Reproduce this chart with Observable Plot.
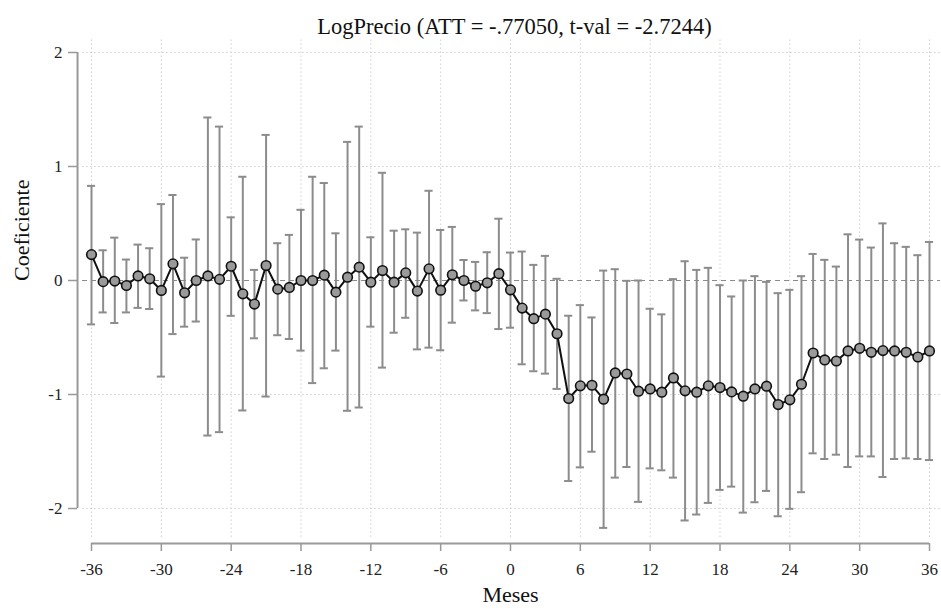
<!DOCTYPE html>
<html><head><meta charset="utf-8">
<script src="https://cdn.jsdelivr.net/npm/d3@7"></script>
<script src="https://cdn.jsdelivr.net/npm/@observablehq/plot@0.6"></script>
<style>body{margin:0;background:#fff}</style>
</head><body><div id="chart"></div>
<script>
const months = [-36,-35,-34,-33,-32,-31,-30,-29,-28,-27,-26,-25,-24,-23,-22,-21,-20,-19,-18,-17,-16,-15,-14,-13,-12,-11,-10,-9,-8,-7,-6,-5,-4,-3,-2,-1,0,1,2,3,4,5,6,7,8,9,10,11,12,13,14,15,16,17,18,19,20,21,22,23,24,25,26,27,28,29,30,31,32,33,34,35,36];
const coef = [0.227,-0.01,-0.005,-0.044,0.04,0.015,-0.087,0.146,-0.108,0.0,0.04,0.01,0.125,-0.117,-0.207,0.131,-0.076,-0.061,0.0,0.0,0.047,-0.102,0.029,0.117,-0.015,0.087,-0.015,0.067,-0.093,0.102,-0.085,0.05,0.0,-0.05,-0.02,0.06,-0.082,-0.242,-0.335,-0.295,-0.467,-1.035,-0.924,-0.919,-1.041,-0.811,-0.82,-0.971,-0.951,-0.98,-0.855,-0.968,-0.98,-0.924,-0.939,-0.977,-1.015,-0.951,-0.927,-1.088,-1.047,-0.91,-0.636,-0.697,-0.706,-0.618,-0.595,-0.63,-0.615,-0.618,-0.63,-0.671,-0.618];
const upper = [0.83,0.265,0.376,0.184,0.315,0.283,0.67,0.75,0.2,0.36,1.43,1.35,0.554,0.91,0.093,1.277,0.327,0.4,0.62,0.91,0.855,0.414,1.216,1.35,0.379,0.945,0.437,0.449,0.42,0.787,0.443,0.47,0.18,0.163,0.248,0.542,0.245,0.254,0.137,0.216,0.015,-0.309,-0.216,-0.324,0.087,0.099,-0.003,0.0,-0.248,-0.297,0.012,0.169,0.093,0.111,-0.041,-0.14,0.0,0.038,-0.012,-0.111,-0.082,0.038,0.233,0.181,0.122,0.405,0.359,0.289,0.501,0.327,0.295,0.222,0.338];
const lower = [-0.385,-0.28,-0.373,-0.28,-0.24,-0.25,-0.843,-0.47,-0.405,-0.36,-1.36,-1.33,-0.31,-1.14,-0.507,-1.018,-0.48,-0.513,-0.615,-0.9,-0.77,-0.615,-1.143,-1.114,-0.405,-0.764,-0.458,-0.327,-0.604,-0.589,-0.612,-0.37,-0.175,-0.262,-0.286,-0.426,-0.414,-0.735,-0.796,-0.817,-0.951,-1.759,-1.639,-1.502,-2.17,-1.729,-1.636,-1.942,-1.648,-1.665,-1.729,-2.105,-2.053,-1.951,-1.837,-1.808,-2.036,-1.945,-1.846,-2.068,-2.003,-1.857,-1.516,-1.566,-1.528,-1.636,-1.543,-1.543,-1.724,-1.566,-1.56,-1.566,-1.575];
const xTicks = [-36,-30,-24,-18,-12,-6,0,6,12,18,24,30,36];
const yTicks = [-2,-1,0,1,2];
const gridY = [-2,-1,1,2];
const title = "LogPrecio (ATT = -.77050, t-val = -2.7244)";
const xLabel = "Meses";
const yLabel = "Coeficiente";

const data = months.map((m, i) => ({m, b: coef[i], hi: upper[i], lo: lower[i]}));
const yMin = -2.307, yMax = 2;
const capHalf = 0.35;
const gx1 = -36.77, gx2 = 36.95, gy1 = -2.254, gy2 = 2.13;
const yAxisX = -37.2;
const gridStyle = {stroke: "#cfcfcf", strokeDasharray: "1.5,2.5", strokeWidth: 1};
const barStyle = {stroke: "#8c8c8c", strokeWidth: 2};
const fmt = d => String(d);

const chart = Plot.plot({
  width: 941, height: 609,
  marginTop: 52, marginBottom: 66, marginLeft: 91, marginRight: 12,
  x: {domain: [-36, 36]},
  y: {domain: [yMin, yMax]},
  style: {fontFamily: "'Liberation Serif', 'Times New Roman', serif", background: "#fff", overflow: "visible"},
  marks: [
    Plot.ruleX(xTicks, {y1: gy1, y2: gy2, ...gridStyle}),
    Plot.ruleY(gridY, {x1: gx1, x2: gx2, ...gridStyle}),
    Plot.ruleY([0], {x1: gx1, x2: gx2, stroke: "#8a8a8a", strokeDasharray: "5,4", strokeWidth: 1.2}),
    Plot.ruleX(data, {x: "m", y1: "lo", y2: "hi", ...barStyle}),
    Plot.ruleY(data, {y: "hi", x1: d => d.m - capHalf, x2: d => d.m + capHalf, ...barStyle}),
    Plot.ruleY(data, {y: "lo", x1: d => d.m - capHalf, x2: d => d.m + capHalf, ...barStyle}),
    Plot.line(data, {x: "m", y: "b", stroke: "#111", strokeWidth: 2}),
    Plot.dot(data, {x: "m", y: "b", r: 4.8, fill: "#9a9a9a", stroke: "#111", strokeWidth: 1.6}),
    Plot.ruleY([yMin], {x1: -36, x2: 36, stroke: "#999", strokeWidth: 2}),
    Plot.ruleX([yAxisX], {y1: -2, y2: 2, stroke: "#999", strokeWidth: 2}),
    Plot.axisX({ticks: xTicks, tickFormat: fmt, tickSize: 8, tickPadding: 11, fontSize: 17, label: null, stroke: "#999", strokeWidth: 1.5, fill: "#222"}),
    Plot.axisY({ticks: yTicks, tickFormat: fmt, tickSize: 9, tickPadding: 6, dx: -14, fontSize: 17, label: null, stroke: "#999", strokeWidth: 1.5, fill: "#222"}),
    Plot.text([title], {text: d => d, frameAnchor: "top", dy: -34, dx: 4, fontSize: 22.5, fill: "#111"}),
    Plot.text([xLabel], {text: d => d, frameAnchor: "bottom", dy: 58, fontSize: 22, fill: "#111"}),
    Plot.text([yLabel], {text: d => d, frameAnchor: "left", rotate: -90, dx: -70, dy: -17, fontSize: 22, fill: "#111"})
  ]
});
document.getElementById("chart").appendChild(chart);
</script>
</body></html>
